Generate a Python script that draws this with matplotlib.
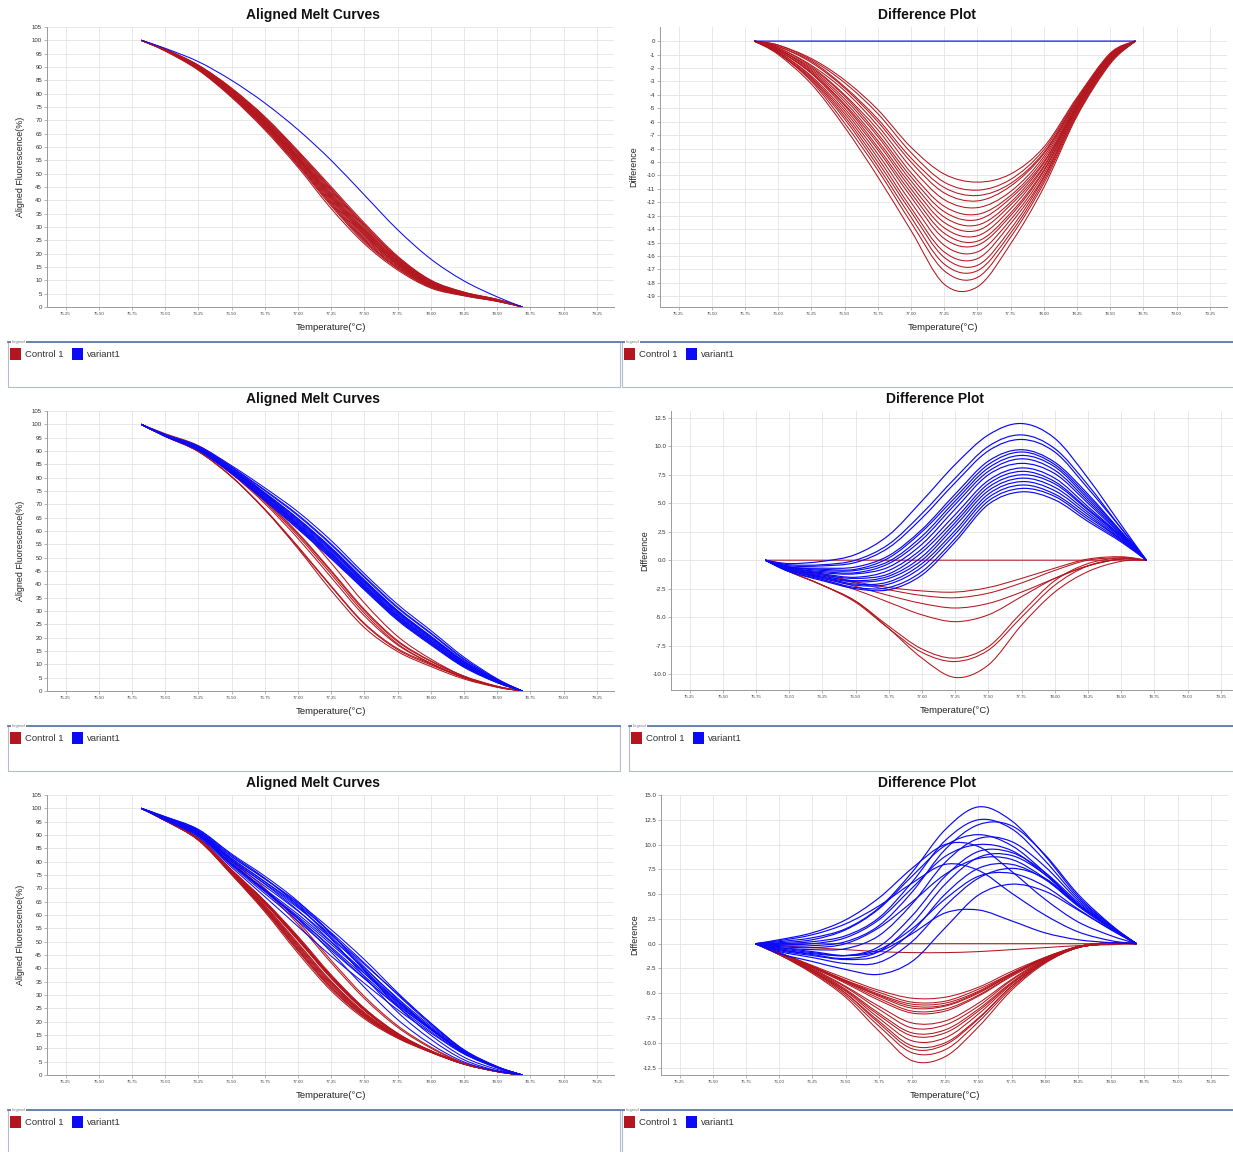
import numpy as np
import matplotlib
matplotlib.use("Agg")
import matplotlib.pyplot as plt
from matplotlib.patches import Rectangle, PathPatch
from matplotlib.path import Path

plt.rcParams['font.family'] = ['Liberation Sans', 'DejaVu Sans']

temps = [75.82, 76.0, 76.25, 76.5, 76.75, 77.0, 77.25, 77.5, 77.75, 78.0, 78.25, 78.5, 78.69]

# difference curves below hold the inner 11 points (both ends are 0)

# ---- run 1 : variant1 is the reference curve ----
run1_ref = [100, 97, 92, 85, 76.5, 66.5, 55, 42, 29, 18, 9.8, 3.8, 0]
run1_variant = [
    [0, 0, 0, 0, 0, 0, 0, 0, 0, 0, 0],
]
run1_control = [
    [-0.3, -1.3, -2.9, -5.1, -7.9, -9.9, -10.5, -9.9, -7.9, -4.2, -0.9],
    [-0.3, -1.4, -3.1, -5.4, -8.3, -10.5, -11.1, -10.3, -8.1, -4.3, -1.0],
    [-0.4, -1.5, -3.4, -5.8, -8.7, -10.9, -11.5, -10.6, -8.3, -4.4, -1.0],
    [-0.4, -1.6, -3.5, -6.0, -9.0, -11.3, -11.9, -10.8, -8.4, -4.5, -1.0],
    [-0.5, -1.8, -3.7, -6.3, -9.4, -11.8, -12.4, -11.2, -8.6, -4.5, -1.1],
    [-0.5, -1.9, -4.0, -6.6, -9.8, -12.3, -12.9, -11.5, -8.8, -4.6, -1.1],
    [-0.6, -2.0, -4.1, -6.9, -10.1, -12.7, -13.3, -11.7, -9.0, -4.7, -1.2],
    [-0.6, -2.1, -4.3, -7.1, -10.4, -13.1, -13.7, -12.0, -9.1, -4.8, -1.2],
    [-0.6, -2.2, -4.5, -7.4, -10.7, -13.5, -14.1, -12.2, -9.3, -4.8, -1.3],
    [-0.7, -2.3, -4.7, -7.6, -11.0, -13.9, -14.5, -12.5, -9.4, -4.9, -1.3],
    [-0.7, -2.4, -4.8, -7.9, -11.3, -14.3, -14.9, -12.8, -9.6, -5.0, -1.3],
    [-0.7, -2.4, -5.0, -8.1, -11.6, -14.7, -15.2, -13.0, -9.7, -5.0, -1.4],
    [-0.8, -2.6, -5.2, -8.4, -12.0, -15.2, -15.7, -13.3, -9.9, -5.1, -1.4],
    [-0.8, -2.7, -5.4, -8.7, -12.4, -15.7, -16.2, -13.6, -10.1, -5.2, -1.5],
    [-0.9, -2.8, -5.6, -9.0, -12.7, -16.1, -16.7, -14.0, -10.2, -5.3, -1.5],
    [-0.9, -2.9, -5.8, -9.3, -13.1, -16.6, -17.1, -14.3, -10.4, -5.4, -1.6],
    [-0.9, -3.0, -6.1, -9.6, -13.5, -17.1, -17.6, -14.6, -10.6, -5.5, -1.6],
    [-1.0, -3.2, -6.4, -10.1, -14.1, -18.1, -18.3, -15.1, -10.9, -5.6, -1.7],
]

# ---- run 2 : one Control 1 curve is the reference ----
run2_ref = [100, 96.5, 92, 84, 74, 62, 48, 33, 20.5, 12, 5.5, 1.5, 0]
run2_control = [
    [0, 0, 0, 0, 0, 0, 0, 0, 0, 0, 0],
    [-1.0, -2.2, -3.6, -6.0, -8.6, -10.3, -9.2, -5.7, -2.8, -1.0, -0.1],
    [-1.0, -2.2, -3.6, -5.8, -7.8, -8.6, -7.6, -4.6, -1.8, -0.3, 0.2],
    [-1.0, -2.2, -3.7, -6.0, -8.1, -8.9, -7.9, -5.0, -2.2, -0.5, 0.1],
    [-0.8, -1.7, -2.6, -3.7, -4.8, -5.4, -4.8, -3.2, -1.6, -0.5, 0.1],
    [-0.7, -1.5, -2.3, -3.1, -3.8, -4.2, -3.8, -2.8, -1.6, -0.5, 0.1],
    [-0.6, -1.3, -2.0, -2.6, -3.1, -3.3, -2.9, -2.0, -0.9, 0.0, 0.2],
    [-0.6, -1.2, -1.9, -2.4, -2.7, -2.8, -2.4, -1.6, -0.7, 0.1, 0.3],
]
run2_variant = [
    [-1.0, -1.8, -2.5, -2.6, -1.3, 1.6, 4.9, 6.0, 5.3, 3.4, 1.6],
    [-1.0, -1.7, -2.4, -2.4, -1.0, 1.9, 5.2, 6.3, 5.6, 3.6, 1.7],
    [-0.9, -1.6, -2.2, -2.1, -0.6, 2.3, 5.5, 6.6, 5.8, 3.8, 1.8],
    [-0.9, -1.5, -2.1, -1.9, -0.3, 2.6, 5.8, 6.9, 6.1, 4.0, 1.8],
    [-0.9, -1.5, -1.9, -1.6, 0.0, 3.0, 6.1, 7.2, 6.4, 4.2, 1.9],
    [-0.8, -1.4, -1.8, -1.4, 0.3, 3.3, 6.4, 7.5, 6.7, 4.4, 2.0],
    [-0.8, -1.3, -1.6, -1.2, 0.7, 3.6, 6.7, 7.8, 6.9, 4.5, 2.1],
    [-0.8, -1.2, -1.5, -0.9, 1.0, 4.0, 7.0, 8.1, 7.2, 4.7, 2.1],
    [-0.7, -1.1, -1.2, -0.6, 1.4, 4.5, 7.5, 8.5, 7.6, 5.0, 2.2],
    [-0.7, -1.0, -1.1, -0.3, 1.8, 4.9, 7.8, 8.9, 7.9, 5.2, 2.3],
    [-0.6, -0.9, -0.9, -0.1, 2.1, 5.2, 8.1, 9.2, 8.2, 5.4, 2.4],
    [-0.6, -0.8, -0.8, 0.2, 2.5, 5.5, 8.4, 9.5, 8.4, 5.6, 2.5],
    [-0.6, -0.7, -0.6, 0.4, 2.7, 5.8, 8.7, 9.7, 8.6, 5.8, 2.5],
    [-0.5, -0.5, -0.2, 1.1, 3.7, 6.8, 9.6, 10.6, 9.5, 6.3, 2.8],
    [-0.4, -0.4, 0.0, 1.4, 4.1, 7.2, 10.0, 11.0, 9.8, 6.6, 2.8],
    [-0.3, -0.1, 0.5, 2.2, 5.2, 8.4, 11.0, 12.0, 10.7, 7.2, 3.1],
]

# ---- run 3 : one Control 1 curve is the reference ----
run3_ref = [100, 96.5, 91, 80.5, 70, 57.5, 43, 29.5, 18.5, 10.5, 4.5, 1.3, 0]
run3_control = [
    [0, 0, 0, 0, 0, 0, 0, 0, 0, 0, 0],
    [-0.2, -0.4, -0.6, -0.8, -0.9, -0.9, -0.8, -0.6, -0.4, -0.2, -0.1],
    [-0.9, -2.2, -3.5, -4.7, -5.5, -5.4, -4.4, -2.8, -1.4, -0.3, 0.1],
    [-0.9, -2.3, -3.7, -4.9, -5.9, -5.8, -4.6, -3.0, -1.4, -0.3, 0.1],
    [-0.9, -2.3, -3.7, -5.1, -6.1, -6.0, -4.8, -3.0, -1.5, -0.3, 0.1],
    [-0.9, -2.3, -3.8, -5.2, -6.3, -6.2, -4.9, -3.1, -1.5, -0.3, 0.1],
    [-0.9, -2.3, -3.8, -5.3, -6.5, -6.3, -5.0, -3.1, -1.5, -0.3, 0.1],
    [-0.9, -2.4, -3.9, -5.5, -6.8, -6.6, -5.2, -3.2, -1.5, -0.3, 0.1],
    [-1.0, -2.4, -4.0, -5.7, -7.0, -6.8, -5.3, -3.3, -1.6, -0.3, 0.1],
    [-1.0, -2.5, -4.3, -6.3, -8.0, -7.8, -6.0, -3.6, -1.6, -0.3, 0.1],
    [-1.0, -2.6, -4.4, -6.6, -8.5, -8.2, -6.3, -3.7, -1.7, -0.3, 0.1],
    [-1.0, -2.6, -4.6, -7.0, -9.0, -8.7, -6.6, -3.9, -1.7, -0.4, 0.0],
    [-1.0, -2.7, -4.7, -7.2, -9.3, -9.0, -6.8, -4.0, -1.8, -0.4, 0.0],
    [-1.0, -2.8, -4.8, -7.5, -9.8, -9.5, -7.1, -4.1, -1.8, -0.4, 0.0],
    [-1.1, -2.8, -5.0, -7.8, -10.3, -10.0, -7.5, -4.3, -1.9, -0.4, 0.0],
    [-1.1, -2.8, -5.0, -8.0, -10.6, -10.2, -7.6, -4.3, -1.9, -0.4, 0.0],
    [-1.1, -2.9, -5.2, -8.3, -11.0, -10.7, -7.9, -4.5, -1.9, -0.4, 0.0],
    [-1.1, -3.0, -5.4, -8.8, -11.8, -11.4, -8.4, -4.7, -2.0, -0.4, 0.0],
]
run3_variant = [
    [0.2, 0.6, 1.5, 3.6, 7.2, 11.5, 13.8, 12.4, 8.9, 4.8, 1.8],
    [0.0, 0.2, 0.8, 2.6, 6.2, 10.4, 12.5, 11.6, 8.4, 4.6, 1.8],
    [-0.2, -0.2, 0.2, 1.8, 5.2, 9.5, 12.0, 11.9, 9.0, 5.0, 1.9],
    [0.1, 0.4, 1.4, 3.5, 6.8, 9.9, 11.0, 9.9, 7.2, 4.0, 1.6],
    [-0.4, -0.6, -0.5, 0.8, 4.0, 8.2, 10.6, 10.3, 7.8, 4.4, 1.7],
    [0.4, 1.1, 2.4, 4.6, 7.6, 10.0, 9.8, 7.3, 4.5, 2.2, 0.8],
    [-0.5, -0.9, -1.2, -0.3, 2.8, 6.8, 9.3, 9.2, 7.2, 4.2, 1.7],
    [-0.3, -0.4, 0.0, 1.6, 4.2, 7.0, 8.6, 8.5, 6.6, 3.9, 1.6],
    [0.3, 0.9, 2.0, 3.8, 6.1, 8.0, 7.4, 5.1, 2.9, 1.2, 0.3],
    [-0.7, -1.2, -1.6, -1.2, 1.2, 5.0, 7.6, 8.0, 6.5, 3.8, 1.5],
    [-0.8, -1.4, -2.0, -1.9, 0.2, 3.8, 6.6, 7.6, 6.6, 4.0, 1.6],
    [-0.6, -1.0, -1.2, -0.6, 1.5, 4.5, 6.8, 7.1, 5.8, 3.5, 1.4],
    [-1.0, -1.8, -2.6, -3.1, -1.8, 1.6, 4.9, 6.0, 5.3, 3.4, 1.4],
    [-0.4, -0.8, -1.2, -0.8, 1.0, 3.1, 3.4, 2.3, 1.1, 0.4, 0.1],
    [-0.1, 0.0, 0.6, 2.4, 5.6, 8.8, 10.0, 9.4, 7.0, 4.0, 1.6],
    [-0.6, -1.1, -1.5, -0.8, 2.0, 6.0, 8.7, 8.9, 7.0, 4.0, 1.6],
]

x_ticks = np.arange(75.25, 79.26, 0.25)
x_range = (75.11, 79.38)

RED = '#b3161e'
BLUE = '#0a0af5'
GRID = '#e4e4e4'

W, H = 1233, 1152
fig = plt.figure(figsize=(W / 100, H / 100), dpi=100)
fig.patch.set_facecolor('white')

# full-figure overlay in pixel coords for titles and legend boxes
bg = fig.add_axes([0, 0, 1, 1])
bg.set_xlim(0, W)
bg.set_ylim(H, 0)
bg.axis('off')


def px_axes(x0, y0, x1, y1):
    return fig.add_axes([x0 / W, 1 - y1 / H, (x1 - x0) / W, (y1 - y0) / H])


def full(d):
    return [0, *d, 0]


def curve(ax, ys, color, lw=0.75):
    # smooth bezier path through the read points (the software draws splines)
    pts = np.column_stack([temps, ys]).astype(float)
    ext = np.vstack([pts[0], pts, pts[-1]])
    verts, codes = [pts[0]], [Path.MOVETO]
    for i in range(len(pts) - 1):
        p0, p1, p2, p3 = ext[i], ext[i + 1], ext[i + 2], ext[i + 3]
        verts += [p1 + (p2 - p0) / 6, p2 - (p3 - p1) / 6, p2]
        codes += [Path.CURVE4] * 3
    ax.add_patch(PathPatch(Path(verts, codes), fill=False, ec=color, lw=lw))


def style(ax, ylabel, yticks, ylim, yfmt):
    ax.set_xlim(*x_range)
    ax.set_ylim(*ylim)
    ax.set_xticks(x_ticks)
    ax.set_xticklabels([f'{t:.2f}' for t in x_ticks], fontsize=3.2, color='#444444')
    ax.set_yticks(yticks)
    ax.set_yticklabels([yfmt.format(v) for v in yticks], fontsize=4.4, color='#333333')
    ax.tick_params(length=2, width=0.5, color='#999999', pad=1.5)
    ax.grid(True, color=GRID, lw=0.6)
    ax.set_axisbelow(True)
    for s in ('top', 'right'):
        ax.spines[s].set_visible(False)
    for s in ('left', 'bottom'):
        ax.spines[s].set_color('#9a9a9a')
        ax.spines[s].set_linewidth(0.7)
    ax.set_xlabel('Temperature(°C)', fontsize=6.8, color='#222222')
    ax.xaxis.set_label_coords(0.5, -0.058)
    ax.set_ylabel(ylabel, fontsize=6.4, color='#222222')
    ax.yaxis.set_label_coords(-0.038, 0.5)


def melt_panel(box, ref, control, variant):
    ax = px_axes(*box)
    for d in control:
        curve(ax, np.add(ref, full(d)), RED)
    for d in variant:
        curve(ax, np.add(ref, full(d)), BLUE)
    style(ax, 'Aligned Fluorescence(%)', list(range(0, 106, 5)), (0, 105), '{:d}')
    return ax


def diff_panel(box, control, variant, yticks, ylim, yfmt):
    ax = px_axes(*box)
    for d in control:
        curve(ax, full(d), RED)
    for d in variant:
        curve(ax, full(d), BLUE, lw=0.85)
    style(ax, 'Difference', yticks, ylim, yfmt)
    return ax


def legend_box(x0, y0, x1, y1):
    bg.add_patch(Rectangle((x0, y0), x1 - x0, y1 - y0, fill=False, ec='#b3bcc8', lw=0.8))
    bg.plot([x0, x1], [y0, y0], color='#5d7ea6', lw=1.3)
    bg.text(x0 + 4, y0, 'Legend', fontsize=3, color='#777777', ha='left', va='center',
            bbox=dict(fc='white', ec='none', pad=0.4))
    sy = y0 + 6
    bg.add_patch(Rectangle((x0 + 2, sy), 11, 12, fc=RED, ec='none'))
    bg.text(x0 + 17, sy + 6.5, 'Control 1', fontsize=6.8, color='#333333', va='center')
    bg.add_patch(Rectangle((x0 + 64, sy), 11, 12, fc=BLUE, ec='none'))
    bg.text(x0 + 79, sy + 6.5, 'variant1', fontsize=6.8, color='#333333', va='center')


def title(x, y, text):
    bg.text(x, y, text, fontsize=10, fontweight='bold', ha='center', va='center', color='#111111')


# row 1
melt_panel((47, 27, 614, 307), run1_ref, run1_control, run1_variant)
diff_panel((660, 27, 1227, 307), run1_control, run1_variant,
           list(range(0, -20, -1)), (-19.8, 1.05), '{:d}')
title(313, 15, 'Aligned Melt Curves')
title(927, 15, 'Difference Plot')
legend_box(8, 342, 620, 387)
legend_box(622, 342, 1240, 387)

# row 2
melt_panel((47, 411, 614, 691), run2_ref, run2_control, run2_variant)
diff_panel((671, 411, 1238, 690), run2_control, run2_variant,
           [-10.0, -7.5, -5.0, -2.5, 0.0, 2.5, 5.0, 7.5, 10.0, 12.5], (-11.4, 13.1), '{:.1f}')
title(313, 399, 'Aligned Melt Curves')
title(935, 399, 'Difference Plot')
legend_box(8, 726, 620, 771)
legend_box(629, 726, 1240, 771)

# row 3
melt_panel((47, 795, 614, 1075), run3_ref, run3_control, run3_variant)
diff_panel((661, 795, 1228, 1075), run3_control, run3_variant,
           [-12.5, -10.0, -7.5, -5.0, -2.5, 0.0, 2.5, 5.0, 7.5, 10.0, 12.5, 15.0], (-13.25, 15.0), '{:.1f}')
title(313, 783, 'Aligned Melt Curves')
title(927, 783, 'Difference Plot')
legend_box(8, 1110, 620, 1165)
legend_box(622, 1110, 1240, 1165)

fig.savefig('out.png', dpi=100, facecolor='white')
